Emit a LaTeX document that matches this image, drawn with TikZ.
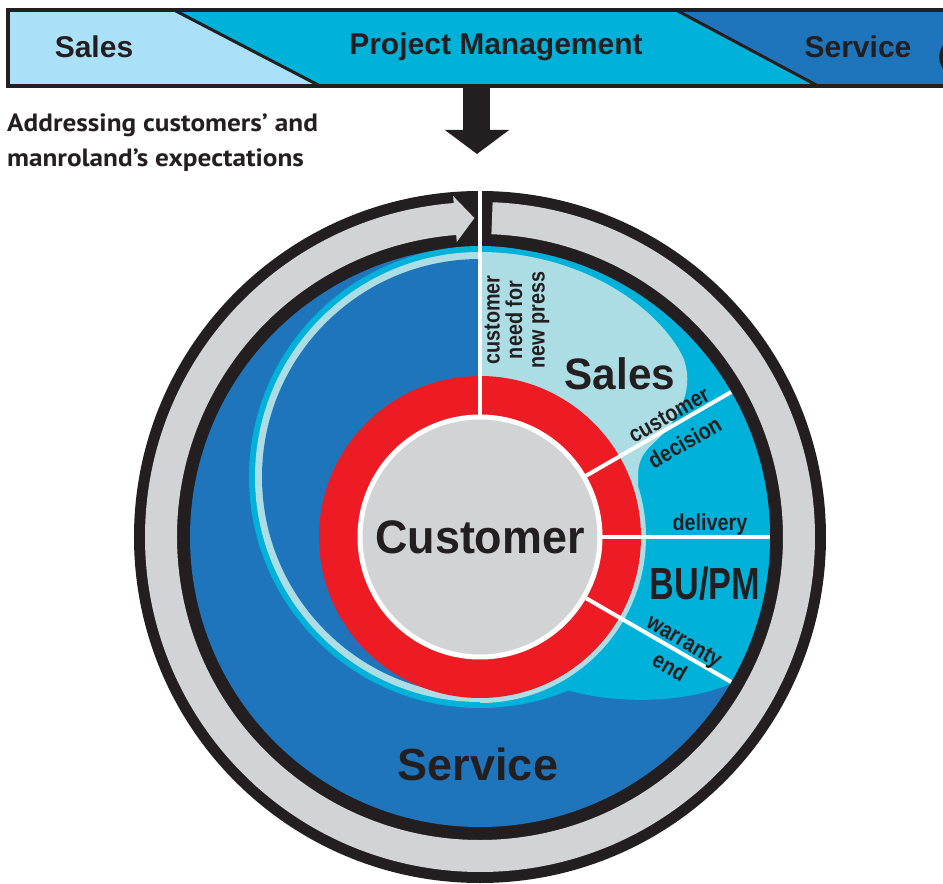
\documentclass[tikz,border=0pt]{standalone}
\usepackage{fontspec}
\usetikzlibrary{arrows.meta}
\newfontfamily\helv{Liberation Sans}
\newfontfamily\helvn{Liberation Sans}[FakeStretch=0.86]
\newfontfamily\capfont{PT Sans}[FakeStretch=1.09]
\definecolor{ink}{RGB}{35,31,32}
\definecolor{ringgray}{RGB}{209,211,212}
\definecolor{serviceblue}{RGB}{31,117,187}
\definecolor{pmcyan}{RGB}{0,177,218}
\definecolor{salespale}{RGB}{172,221,229}
\definecolor{barlight}{RGB}{171,225,248}
\definecolor{custred}{RGB}{237,28,36}
\newcommand{\squeezed}[2]{\scalebox{#1}[1]{#2}}

\begin{document}
\begin{tikzpicture}[x=1pt, y=1pt,
    bar/.style={font=\helv\bfseries\fontsize{30}{30}\selectfont, text=ink},
    big/.style={font=\helv\bfseries\fontsize{#1}{#1}\selectfont, text=ink},
    small/.style={font=\helvn\bfseries\fontsize{23}{#1}\selectfont, text=ink, align=center, inner sep=0},
    divider/.style={white, line width=4pt}]
    \useasboundingbox (-480,-347) rectangle (463,537);

    \fill[barlight] (-472,527) -- (-306,527) -- (-160,451) -- (-472,451) -- cycle;
    \fill[pmcyan] (-306,527) -- (196,527) -- (338,451) -- (-160,451) -- cycle;
    \fill[serviceblue] (196,527) -- (475,527) -- (475,451) -- (338,451) -- cycle;
    \draw[ink, line width=3pt] (-306,527) -- (-160,451) (196,527) -- (338,451);
    \draw[ink, line width=3.5pt] (475,527) -- (-472,527) -- (-472,451) -- (475,451);
    \draw[ink, line width=3.5pt] (479,480) circle (18);

    \node[bar] (barsales) at (-386,490) {Sales};
    \node[bar] (barpm) at (16,490) {Project Management};
    \node[bar] (barservice) at (378,490) {Service};

    \coordinate (flowtop) at (-3,451);
    \coordinate (flowtip) at (-3,383);
    \draw[ink, line width=27pt, -{Triangle[width=63pt, length=24pt]}] (flowtop) -- (flowtip);

    \node[anchor=north west, align=left, inner sep=0, text=ink,
        font=\capfont\bfseries\fontsize{25}{35}\selectfont] (caption) at (-473,423)
        {Addressing customers’ and\\manroland’s expectations};

    \fill[ink] (0,0) circle (346);
    \fill[ringgray] (94.5:303) arc[start angle=94.5, end angle=447.84, radius=303]
        -- (447.84:335) arc[start angle=447.84, end angle=94.5, radius=335]
        -- (94.5:342) -- (91:319) -- (94.5:296) -- cycle;
    \fill[serviceblue] (0,0) circle (290);
    \fill[pmcyan] (0,60) circle (231);
    \fill[pmcyan] (90:290) arc[start angle=90, end angle=-30.5, radius=290]
        .. controls (200,-168) and (130,-166) .. (87,-153) -- (0,60) -- cycle;
    \fill[salespale] (0,285) arc[start angle=90, end angle=270, radius=225] -- cycle;
    \fill[serviceblue] (0,278) arc[start angle=90, end angle=270, radius=218] -- cycle;
    \fill[salespale] (0,285) .. controls (95,285) and (175,235) .. (203,180)
        .. controls (215,150) and (200,120) .. (180,100)
        .. controls (165,86) and (158,80) .. (158,60) -- (158,0) -- (0,0) -- cycle;
    \fill[salespale] (0,166) arc[start angle=90, end angle=-90, radius=166] -- cycle;
    \fill[custred] (0,0) circle (161);

    \coordinate (gap) at (0,346);
    \foreach \ang/\n in {30/decision, 0/delivery, -30/warranty} {
        \coordinate (\n) at (\ang:290);
    }
    \node[circle, minimum size=240pt, inner sep=0, fill=ringgray, draw=white, line width=5pt,
        big=47] (customer) at (0,0) {\raisebox{-3pt}{\squeezed{0.955}{Customer}}};
    \draw[divider] (customer.90) -- (gap);
    \foreach \ang/\n in {30/decision, 0/delivery, -30/warranty} {
        \draw[divider] (customer.\ang) -- (\n);
    }

    \node[big=44] (sales) at (140,163) {\squeezed{0.96}{Sales}};
    \node[big=45] (bupm) at (225,-47) {\squeezed{0.76}{BU/PM}};
    \node[big=45] (service) at (-2,-227) {Service};
    \node[small=22.5, rotate=90] (need) at (37,217) {customer\\need for\\new press};
    \node[small=32, rotate=30] (decisionlabel) at (197,108) {customer\\decision};
    \node[small=22, anchor=base] (deliverylabel) at (230,7) {delivery};
    \node[small=30, rotate=-30] (warrantylabel) at (197,-117) {warranty\\end};
\end{tikzpicture}
\end{document}
